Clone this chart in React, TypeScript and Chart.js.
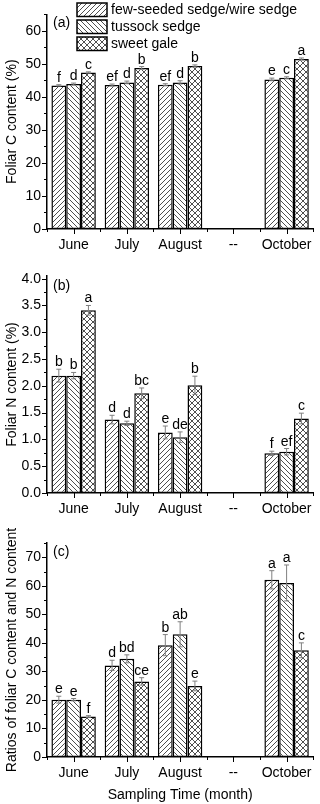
import React, { useEffect, useRef } from 'react';
import { Chart, registerables } from 'chart.js';

Chart.register(...registerables);

// ---------- data ----------
const months = ['June', 'July', 'August', '--', 'October'];
const seriesNames = ['few-seeded sedge/wire sedge', 'tussock sedge', 'sweet gale'];

// (a) Foliar C content (%)
const cFew = [43.5, 43.6, 43.7, null, 45.3];
const cTus = [43.9, 44.4, 44.4, null, 45.8];
const cGale = [47.4, 48.8, 49.4, null, 51.5];
const cFewErr = [0.2, 0.3, 0.3, null, 0.4];
const cTusErr = [0.3, 0.4, 0.5, null, 0.3];
const cGaleErr = [0.2, 0.4, 0.3, null, 0.3];
const cFewSig = ['f', 'ef', 'ef', '', 'e'];
const cTusSig = ['d', 'd', 'd', '', 'c'];
const cGaleSig = ['c', 'b', 'b', '', 'a'];

// (b) Foliar N content (%)
const nFew = [2.19, 1.37, 1.13, null, 0.74];
const nTus = [2.19, 1.3, 1.04, null, 0.77];
const nGale = [3.41, 1.86, 2.01, null, 1.39];
const nFewErr = [0.12, 0.08, 0.12, null, 0.04];
const nTusErr = [0.06, 0.04, 0.1, null, 0.06];
const nGaleErr = [0.09, 0.1, 0.17, null, 0.1];
const nFewSig = ['b', 'd', 'e', '', 'f'];
const nTusSig = ['b', 'd', 'de', '', 'ef'];
const nGaleSig = ['a', 'bc', 'b', '', 'c'];

// (c) C:N ratio
const rFew = [20.1, 32.1, 39.2, null, 62.1];
const rTus = [20.1, 34.4, 43.0, null, 61.0];
const rGale = [14.2, 26.5, 24.9, null, 37.4];
const rFewErr = [1.2, 1.8, 3.7, null, 3.2];
const rTusErr = [0.4, 1.4, 4.4, null, 6.3];
const rGaleErr = [0.3, 1.3, 1.7, null, 2.6];
const rFewSig = ['e', 'd', 'b', '', 'a'];
const rTusSig = ['e', 'bd', 'ab', '', 'a'];
const rGaleSig = ['f', 'ce', 'e', '', 'c'];

const FONT = '"Liberation Sans", Arial, Helvetica, sans-serif';

type Panel = {
  values: (number | null)[][];
  errs: (number | null)[][];
  sigs: string[][];
  max: number;
  minor: number;
  decimals: number;
  yTitle: string;
  tag: string;
  tagY: number;
  top: number;
  height: number;
  padTop: number;
  xHeight: number;
  xTitle?: string;
  legend?: boolean;
};

const panels: Panel[] = [
  {
    values: [cFew, cTus, cGale], errs: [cFewErr, cTusErr, cGaleErr], sigs: [cFewSig, cTusSig, cGaleSig],
    max: 65, minor: 5, decimals: 0, yTitle: 'Foliar C content (%)', tag: '(a)', tagY: 23.5,
    top: 0, height: 259, padTop: 13, xHeight: 30, legend: true,
  },
  {
    values: [nFew, nTus, nGale], errs: [nFewErr, nTusErr, nGaleErr], sigs: [nFewSig, nTusSig, nGaleSig],
    max: 4.05, minor: 0.25, decimals: 1, yTitle: 'Foliar N content (%)', tag: '(b)', tagY: 27,
    top: 259, height: 264, padTop: 17, xHeight: 30,
  },
  {
    values: [rFew, rTus, rGale], errs: [rFewErr, rTusErr, rGaleErr], sigs: [rFewSig, rTusSig, rGaleSig],
    max: 75, minor: 5, decimals: 0, yTitle: 'Ratios of foliar C content and N content', tag: '(c)', tagY: 29,
    top: 523, height: 281, padTop: 20, xHeight: 47, xTitle: 'Sampling Time (month)',
  },
];

function makePattern(kind: number): CanvasPattern {
  const s = kind === 2 ? 6 : 5;
  const c = document.createElement('canvas');
  c.width = s;
  c.height = s;
  const g = c.getContext('2d')!;
  g.fillStyle = '#fff';
  g.fillRect(0, 0, s, s);
  g.strokeStyle = '#222';
  g.lineWidth = 0.8;
  const fwd = () => {
    g.beginPath();
    g.moveTo(-1, s + 1); g.lineTo(s + 1, -1);
    g.moveTo(-1, 1); g.lineTo(1, -1);
    g.moveTo(s - 1, s + 1); g.lineTo(s + 1, s - 1);
    g.stroke();
  };
  const back = () => {
    g.beginPath();
    g.moveTo(-1, -1); g.lineTo(s + 1, s + 1);
    g.moveTo(s - 1, -1); g.lineTo(s + 1, 1);
    g.moveTo(-1, s - 1); g.lineTo(1, s + 1);
    g.stroke();
  };
  if (kind === 0) fwd();
  else if (kind === 1) back();
  else { fwd(); back(); }
  return g.createPattern(c, 'repeat')!;
}

function PanelChart({ p }: { p: Panel }) {
  const ref = useRef<HTMLCanvasElement>(null);
  useEffect(() => {
    const canvas = ref.current!;
    const patterns = [0, 1, 2].map(makePattern);
    const isMajor = (v: number) => {
      const k = Math.round(v / p.minor);
      return Math.abs(v / p.minor - k) < 1e-6 && k % 2 === 0;
    };
    const tickValues: number[] = [];
    for (let k = 0; k * p.minor <= p.max + 1e-9; k++) tickValues.push(+(k * p.minor).toFixed(4));
    const overlay = {
      id: 'overlay',
      afterDatasetsDraw(chart: any) {
        const ctx = chart.ctx;
        const ys = chart.scales.y;
        ctx.save();
        // error bars
        for (let d = 0; d < 3; d++) {
          const meta = chart.getDatasetMeta(d);
          meta.data.forEach((el: any, j: number) => {
            const v = p.values[d][j];
            const e = p.errs[d][j];
            if (v == null || e == null) return;
            const x = el.x;
            const yT = ys.getPixelForValue(v + e);
            const yB = ys.getPixelForValue(v - e);
            ctx.strokeStyle = '#808080';
            ctx.lineWidth = 1;
            ctx.beginPath();
            ctx.moveTo(x, yT); ctx.lineTo(x, yB);
            ctx.moveTo(x - 2.5, yT); ctx.lineTo(x + 2.5, yT);
            ctx.moveTo(x - 2.5, yB); ctx.lineTo(x + 2.5, yB);
            ctx.stroke();
            const s = p.sigs[d][j];
            if (s) {
              ctx.fillStyle = '#000';
              ctx.font = `14px ${FONT}`;
              ctx.textAlign = 'center';
              ctx.textBaseline = 'alphabetic';
              ctx.fillText(s, x, yT - 3);
            }
          });
        }
        ctx.restore();
      },
      afterDraw(chart: any) {
        const ctx = chart.ctx;
        const ys = chart.scales.y;
        const xs = chart.scales.x;
        const area = chart.chartArea;
        ctx.save();
        ctx.strokeStyle = '#000';
        ctx.lineWidth = 1;
        // y ticks
        ctx.beginPath();
        for (const v of tickValues) {
          const y = Math.round(ys.getPixelForValue(v)) + 0.5;
          const len = isMajor(v) ? 5 : 3;
          ctx.moveTo(area.left - len, y);
          ctx.lineTo(area.left, y);
        }
        // x ticks
        const n = months.length;
        for (let j = 0; j < n; j++) {
          const cx = Math.round(xs.getPixelForValue(j)) + 0.5;
          ctx.moveTo(cx, area.bottom);
          ctx.lineTo(cx, area.bottom + 5);
        }
        for (let j = 0; j <= n; j++) {
          const bx = Math.round(area.left + (j * (area.right - area.left)) / n) + 0.5;
          ctx.moveTo(bx, area.bottom);
          ctx.lineTo(bx, area.bottom + 3);
        }
        ctx.stroke();
        // panel tag
        ctx.fillStyle = '#000';
        ctx.font = `14px ${FONT}`;
        ctx.textAlign = 'left';
        ctx.textBaseline = 'middle';
        ctx.fillText(p.tag, area.left + 6, p.tagY);
        // legend
        if (p.legend) {
          const tops = [3, 20, 37];
          for (let i = 0; i < 3; i++) {
            ctx.fillStyle = patterns[i];
            ctx.fillRect(77, tops[i], 30, 13.5);
            ctx.strokeStyle = '#000';
            ctx.lineWidth = 1.5;
            ctx.strokeRect(77, tops[i], 30, 13.5);
            ctx.fillStyle = '#000';
            ctx.fillText(seriesNames[i], 111, tops[i] + 7);
          }
        }
        ctx.restore();
      },
    };
    const font = { family: FONT, size: 14 };
    const chart = new Chart(canvas, {
      type: 'bar',
      data: {
        labels: months,
        datasets: [0, 1, 2].map((i) => ({
          label: seriesNames[i],
          data: p.values[i] as any,
          backgroundColor: patterns[i] as any,
          borderColor: '#000',
          borderWidth: 1.5,
          borderSkipped: false,
          categoryPercentage: 0.834,
          barPercentage: 1,
        })),
      },
      options: {
        animation: false,
        responsive: false,
        maintainAspectRatio: false,
        devicePixelRatio: 1,
        layout: { padding: { top: p.padTop, right: 5, bottom: 0, left: 0 } },
        plugins: { legend: { display: false }, tooltip: { enabled: false } },
        scales: {
          x: {
            grid: { display: false, drawTicks: false },
            border: { display: true, color: '#000', width: 1.5 },
            ticks: { color: '#000', font, padding: 8, autoSkip: false, maxRotation: 0 },
            title: p.xTitle
              ? { display: true, text: p.xTitle, color: '#000', font, padding: { top: 0, bottom: 0 } }
              : { display: false },
            afterFit: (s: any) => { s.height = p.xHeight; },
          },
          y: {
            min: 0,
            max: p.max,
            grid: { display: false, drawTicks: false },
            border: { display: true, color: '#000', width: 1.5 },
            afterBuildTicks: (s: any) => {
              s.ticks = tickValues.map((v) => ({ value: v }));
            },
            ticks: {
              color: '#000',
              font,
              padding: 6,
              autoSkip: false,
              callback: (v: any) => {
                const num = Number(v);
                return isMajor(num) ? num.toFixed(p.decimals) : '';
              },
            },
            title: { display: true, text: p.yTitle, color: '#000', font, padding: { top: 4, bottom: 0 } },
            afterFit: (s: any) => { s.width = 47; },
          },
        },
      },
      plugins: [overlay],
    } as any);
    return () => chart.destroy();
  }, [p]);
  return (
    <canvas
      ref={ref}
      width={320}
      height={p.height}
      style={{ position: 'absolute', left: 0, top: p.top, width: 320, height: p.height, display: 'block' }}
    />
  );
}

export default function App() {
  return (
    <div style={{ position: 'absolute', left: 0, top: 0, width: 320, height: 804, background: '#fff', overflow: 'hidden' }}>
      {panels.map((p, i) => (
        <PanelChart key={i} p={p} />
      ))}
    </div>
  );
}
